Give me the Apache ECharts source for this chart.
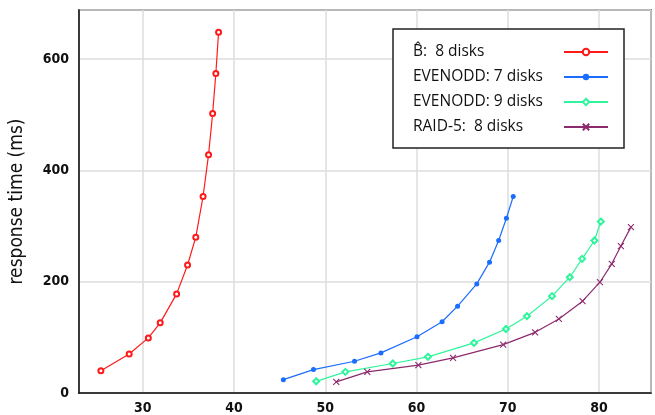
<!DOCTYPE html>
<html>
<head>
<meta charset="utf-8">
<script src="https://cdn.jsdelivr.net/npm/echarts@6/dist/echarts.min.js"></script>
<style>
  html, body { margin: 0; padding: 0; background: #fff; }
  #chart { width: 655px; height: 415px; }
</style>
</head>
<body>
<div id="chart"></div>
<script>
// series names
var names = ['B\u0302:  8 disks', 'EVENODD: 7 disks', 'EVENODD: 9 disks', 'RAID-5:  8 disks'];

// throughput (x) and response time in ms (y)
var bhatX = [25.4, 28.5, 30.6, 31.9, 33.7, 34.9, 35.8, 36.6, 37.2, 37.65, 38.0, 38.3];
var bhatY = [40, 70, 99, 126, 178, 230, 280, 353, 428, 502, 574, 648];

var even7X = [45.4, 48.7, 53.2, 56.1, 60.05, 62.8, 64.5, 66.6, 68.0, 69.0, 69.85, 70.6];
var even7Y = [24, 42, 57, 72, 101, 128, 156, 196, 235, 274, 314, 353];

var even9X = [49.0, 52.2, 57.4, 61.25, 66.3, 69.8, 72.1, 74.85, 76.8, 78.15, 79.5, 80.2];
var even9Y = [21, 38, 53, 65, 90, 115, 138, 174, 208, 241, 274, 308];

var raidX = [51.2, 54.6, 60.2, 64.0, 69.5, 73.0, 75.6, 78.2, 80.1, 81.4, 82.4, 83.5];
var raidY = [20, 38, 50, 63, 87, 109, 133, 165, 199, 232, 264, 298];

var colors = ['#ff1a1a', '#1a6dff', '#2ef59c', '#8c2a6e'];

function pairs(xs, ys) {
  return xs.map(function (x, i) { return [x, ys[i]]; });
}

var myChart = echarts.init(document.getElementById('chart'));

var narrow = '"DejaVu Sans Condensed", Roboto, sans-serif';

var tickFont = {
  fontFamily: narrow,
  fontWeight: 'bold',
  fontSize: 14,
  color: '#111'
};

function mkSeries(i, xs, ys, symbol, size, extra) {
  var s = {
    name: names[i],
    type: 'line',
    data: pairs(xs, ys),
    symbol: symbol,
    symbolSize: size,
    showAllSymbol: true,
    lineStyle: { color: colors[i], width: 1.2 },
    itemStyle: { color: colors[i] },
    animation: false
  };
  if (extra) s.itemStyle = extra;
  return s;
}

var option = {
  backgroundColor: '#fff',
  animation: false,
  grid: {
    left: 76,
    right: 4,
    top: 10,
    bottom: 22,
    show: true,
    borderColor: '#111',
    borderWidth: 1.5
  },
  legend: {
    orient: 'vertical',
    left: 393,
    top: 29,
    align: 'right',
    itemWidth: 44,
    itemHeight: 8,
    itemGap: 9,
    padding: [15, 15, 13, 20],
    backgroundColor: '#fff',
    borderColor: '#222',
    borderWidth: 1.5,
    formatter: function (n) { return '{t|' + n + '}'; },
    textStyle: {
      fontFamily: '"Open Sans", sans-serif',
      fontSize: 15.5,
      color: '#111',
      rich: {
        t: {
          fontFamily: '"Open Sans", sans-serif',
          fontSize: 15.5,
          lineHeight: 16,
          color: '#111',
          width: 146,
          align: 'left'
        }
      }
    },
    data: names
  },
  xAxis: {
    type: 'value',
    min: 23,
    max: 85.7,
    axisLine: { lineStyle: { color: '#111', width: 1.5 } },
    axisTick: { show: false },
    axisLabel: Object.assign({ showMinLabel: false, showMaxLabel: false, margin: 8 }, tickFont),
    splitLine: { lineStyle: { color: '#dcdcdc', width: 1.5 } }
  },
  yAxis: {
    type: 'value',
    min: 0,
    max: 688,
    interval: 200,
    name: 'response time (ms)',
    nameLocation: 'middle',
    nameGap: 52,
    nameTextStyle: {
      fontFamily: narrow,
      fontSize: 19,
      color: '#111'
    },
    axisLine: { lineStyle: { color: '#111', width: 1.5 } },
    axisTick: { show: false },
    axisLabel: Object.assign({ showMaxLabel: false, margin: 10 }, tickFont),
    splitLine: { lineStyle: { color: '#dcdcdc', width: 1.5 } }
  },
  series: [
    mkSeries(0, bhatX, bhatY, 'emptyCircle', 5),
    mkSeries(1, even7X, even7Y, 'circle', 5),
    mkSeries(2, even9X, even9Y, 'emptyDiamond', 6),
    mkSeries(3, raidX, raidY, 'path://M0,0L10,10M10,0L0,10', 6,
      { color: colors[3], borderColor: colors[3], borderWidth: 1.1 })
  ]
};

myChart.setOption(option);
</script>
</body>
</html>
